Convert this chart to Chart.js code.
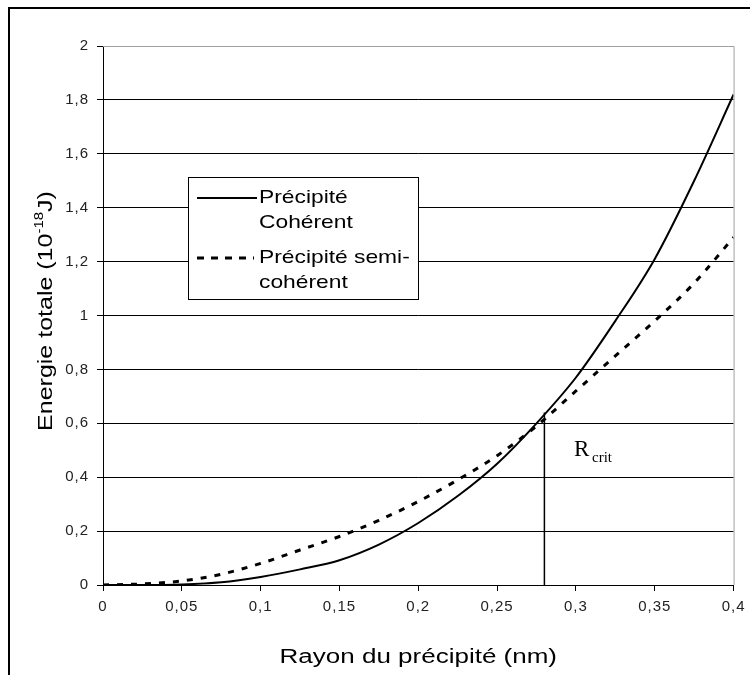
<!DOCTYPE html>
<html>
<head>
<meta charset="utf-8">
<script src="https://cdn.jsdelivr.net/npm/chart.js@4.4.1/dist/chart.umd.min.js"></script>
<style>
  body { margin: 0; background: #fff; }
  canvas { display: block; }
</style>
</head>
<body>
<canvas id="energyChart" width="751" height="675"></canvas>
<script>
// rayon du précipité (nm)
const rayon = [0, 0.025, 0.05, 0.075, 0.1, 0.125, 0.15, 0.175, 0.2, 0.225, 0.25, 0.275, 0.3, 0.325, 0.35, 0.375, 0.4];
// énergie totale (10^-18 J)
const coherent = [0, 0, 0.002, 0.01, 0.03, 0.058, 0.092, 0.15, 0.23, 0.33, 0.45, 0.6, 0.77, 0.98, 1.21, 1.5, 1.82];
const semiCoherent = [0, 0.004, 0.015, 0.04, 0.08, 0.13, 0.18, 0.24, 0.31, 0.39, 0.48, 0.59, 0.72, 0.85, 0.98, 1.12, 1.29];
const rCrit = 0.28;
const rCritTop = 0.64;
const xTicks = [0, 0.05, 0.1, 0.15, 0.2, 0.25, 0.3, 0.35, 0.4];
const yTicks = [0, 0.2, 0.4, 0.6, 0.8, 1, 1.2, 1.4, 1.6, 1.8, 2];

const font = '"Liberation Sans", Arial, sans-serif';

function frLabel(v) {
    return String(Math.round(v * 1000) / 1000).replace('.', ',');
}

// texte étiré dans le sens de l'écriture (rendu Excel)
function wideText(c, txt, x, y, sx) {
    c.save();
    c.translate(x, y);
    c.scale(sx, 1);
    c.fillText(txt, 0, 0);
    c.restore();
}

const decorPlugin = {
    id: 'decor',
    beforeDraw(chart) {
        const c = chart.ctx;
        c.save();
        c.fillStyle = '#fff';
        c.fillRect(0, 0, chart.width, chart.height);
        // cadre extérieur
        c.strokeStyle = '#000';
        c.lineWidth = 2;
        c.beginPath();
        c.moveTo(9, 680);
        c.lineTo(9, 8);
        c.lineTo(750, 8);
        c.stroke();
        c.restore();
        c.letterSpacing = '1px';
    },
    afterDraw(chart) {
        const c = chart.ctx;
        const a = chart.chartArea;
        c.letterSpacing = '0px';
        c.save();
        // bord haut et droit de la zone de tracé
        c.strokeStyle = '#a0a0a0';
        c.lineWidth = 1;
        c.beginPath();
        c.moveTo(a.left, a.top + 0.5);
        c.lineTo(a.right + 0.5, a.top + 0.5);
        c.lineTo(a.right + 0.5, a.bottom);
        c.stroke();

        // titre axe x
        c.fillStyle = '#000';
        c.font = '20px ' + font;
        c.textAlign = 'center';
        c.textBaseline = 'middle';
        wideText(c, 'Rayon du précipité (nm)', (a.left + a.right) / 2, 657, 1.3);

        // titre axe y
        c.save();
        c.translate(45, 311);
        c.rotate(-Math.PI / 2);
        c.scale(1.25, 1);
        c.textBaseline = 'alphabetic';
        c.textAlign = 'left';
        const p1 = 'Energie totale (10', sup = '-18', p2 = 'J)';
        c.font = '20px ' + font;
        const w1 = c.measureText(p1).width, w3 = c.measureText(p2).width;
        c.font = '12px ' + font;
        const w2 = c.measureText(sup).width;
        let x0 = -(w1 + w2 + w3) / 2;
        c.font = '20px ' + font;
        c.fillText(p1, x0, 7);
        c.font = '12px ' + font;
        c.fillText(sup, x0 + w1, -2);
        c.font = '20px ' + font;
        c.fillText(p2, x0 + w1 + w2, 7);
        c.restore();

        // R crit
        c.textAlign = 'left';
        c.textBaseline = 'alphabetic';
        c.font = '23px "Liberation Serif", "Times New Roman", serif';
        c.fillText('R', 574, 456);
        c.font = '15px "Liberation Serif", "Times New Roman", serif';
        c.fillText('crit', 592, 462);

        // légende
        const lx = 188, ly = 177, lw = 230, lh = 122;
        c.fillStyle = '#fff';
        c.fillRect(lx, ly, lw, lh);
        c.strokeStyle = '#000';
        c.lineWidth = 1;
        c.strokeRect(lx + 0.5, ly + 0.5, lw, lh);
        c.lineWidth = 2;
        c.beginPath();
        c.moveTo(197, 198);
        c.lineTo(257, 198);
        c.stroke();
        c.lineWidth = 3;
        c.setLineDash([7, 7]);
        c.beginPath();
        c.moveTo(197, 258);
        c.lineTo(254, 258);
        c.stroke();
        c.setLineDash([]);
        c.fillStyle = '#000';
        c.font = '19px ' + font;
        c.textBaseline = 'middle';
        wideText(c, 'Précipité', 259, 198, 1.2);
        wideText(c, 'Cohérent', 259, 223, 1.2);
        wideText(c, 'Précipité semi-', 259, 258, 1.2);
        wideText(c, 'cohérent', 259, 283, 1.2);
        c.restore();
    }
};

const ctx = document.getElementById('energyChart').getContext('2d');
const energyChart = new Chart(ctx, {
    type: 'scatter',
    data: {
        datasets: [{
            label: 'Précipité Cohérent',
            data: rayon.map((r, i) => ({ x: r, y: coherent[i] })),
            showLine: true,
            borderColor: '#000',
            borderWidth: 2,
            pointRadius: 0,
            cubicInterpolationMode: 'monotone'
        }, {
            label: 'Précipité semi-cohérent',
            data: rayon.map((r, i) => ({ x: r, y: semiCoherent[i] })),
            showLine: true,
            borderColor: '#000',
            borderWidth: 3,
            borderDash: [6, 8],
            pointRadius: 0,
            cubicInterpolationMode: 'monotone'
        }, {
            label: 'Rcrit',
            data: [{ x: rCrit, y: 0 }, { x: rCrit, y: rCritTop }],
            showLine: true,
            borderColor: '#000',
            borderWidth: 1.5,
            pointRadius: 0
        }]
    },
    options: {
        responsive: false,
        animation: false,
        layout: {
            padding: { top: 46, right: 16, left: 0, bottom: 0 }
        },
        plugins: {
            legend: { display: false },
            tooltip: { enabled: false }
        },
        scales: {
            x: {
                type: 'linear',
                min: 0,
                max: 0.4,
                afterBuildTicks: function (axis) {
                    axis.ticks = xTicks.map(v => ({ value: v }));
                },
                afterFit: function (axis) {
                    axis.height = 90;
                },
                border: { color: '#000', width: 1 },
                grid: {
                    drawOnChartArea: false,
                    drawTicks: true,
                    tickLength: 6,
                    tickColor: '#000'
                },
                ticks: {
                    color: '#222',
                    font: { family: font, size: 15 },
                    padding: 7,
                    maxRotation: 0,
                    autoSkip: false,
                    callback: v => frLabel(v)
                }
            },
            y: {
                type: 'linear',
                min: 0,
                max: 2,
                afterBuildTicks: function (axis) {
                    axis.ticks = yTicks.map(v => ({ value: v }));
                },
                afterFit: function (axis) {
                    axis.width = 103;
                },
                border: { color: '#000', width: 1 },
                grid: {
                    color: ctx => (ctx.tick && ctx.tick.value === 2) ? '#a0a0a0' : '#000',
                    lineWidth: 1,
                    tickLength: 6,
                    tickColor: '#000'
                },
                ticks: {
                    color: '#222',
                    font: { family: font, size: 15 },
                    padding: 8,
                    autoSkip: false,
                    callback: v => frLabel(v)
                }
            }
        }
    },
    plugins: [decorPlugin]
});
</script>
</body>
</html>
